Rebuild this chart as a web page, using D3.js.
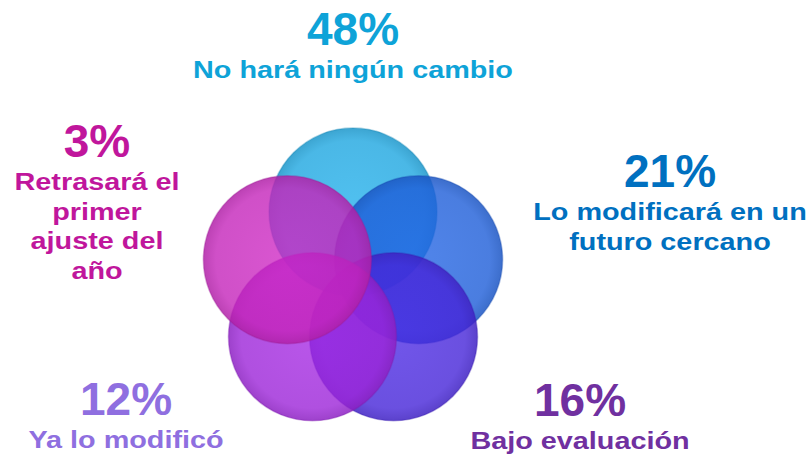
<!DOCTYPE html>
<html lang="es">
  <head>
    <meta charset="utf-8" />
    <title>Ajuste</title>
    <style>
      body { margin: 0; background: #fff; }
      text { font-family: "Liberation Sans", Arial, sans-serif; font-weight: bold; }
    </style>
  </head>
  <body>
    <div id="chart"></div>
    <script src="https://cdn.jsdelivr.net/npm/d3@7"></script>
    <script>
      // data, clockwise from the top
      const categories = [
        ["No hará ningún cambio"],
        ["Lo modificará en un", "futuro cercano"],
        ["Bajo evaluación"],
        ["Ya lo modificó"],
        ["Retrasará el", "primer", "ajuste del", "año"]
      ];
      const values = [48, 21, 16, 12, 3];
      const circleColors = ["#1da6e0", "#1d5dd8", "#4524d8", "#9c24d8", "#c424ba"];
      const textColors = ["#0ea3d8", "#0070c0", "#7030a0", "#8f6fe0", "#c0169c"];
      // where each label block sits (x centre, baseline of the percent)
      const labelPos = [[353, 45], [670, 187], [580, 416], [126, 415], [97, 157]];

      const width = 812, height = 454;
      const cx = 353, cy = 281, ring = 69, r = 84;

      const svg = d3.select("#chart").append("svg")
        .attr("width", width).attr("height", height);

      const angle = d3.scaleLinear().domain([0, values.length]).range([-Math.PI / 2, 1.5 * Math.PI]);

      const defs = svg.append("defs");
      circleColors.forEach((c, i) => {
        let g = defs.append("radialGradient").attr("id", "g" + i)
          .attr("cx", "50%").attr("cy", "50%").attr("r", "50%");
        g.append("stop").attr("offset", "0%").attr("stop-color", d3.color(c).brighter(0.15)).attr("stop-opacity", 0.78);
        g.append("stop").attr("offset", "85%").attr("stop-color", c).attr("stop-opacity", 0.8);
        g.append("stop").attr("offset", "100%").attr("stop-color", d3.color(c).darker(0.3)).attr("stop-opacity", 0.85);
      });

      svg.append("g").selectAll("circle")
        .data(values)
        .join("circle")
        .attr("cx", (d, i) => cx + ring * Math.cos(angle(i)))
        .attr("cy", (d, i) => cy + ring * Math.sin(angle(i)))
        .attr("r", r)
        .attr("fill", (d, i) => `url(#g${i})`)
        .attr("stroke", (d, i) => d3.color(circleColors[i]).darker(0.6))
        .attr("stroke-opacity", 0.35)
        .attr("stroke-width", 1.5);

      const labels = svg.append("g").selectAll("g")
        .data(values)
        .join("g")
        .attr("transform", (d, i) => `translate(${labelPos[i][0]},${labelPos[i][1]})`)
        .attr("fill", (d, i) => textColors[i])
        .attr("text-anchor", "middle");

      labels.append("text")
        .style("font-size", "46px")
        .text(d => d + "%");

      labels.each(function (d, i) {
        d3.select(this).selectAll("text.lbl")
          .data(categories[i])
          .join("text")
          .attr("class", "lbl")
          .attr("transform", (t, j) => `translate(0,${33 + j * 29.5}) scale(1.2,1)`)
          .style("font-size", "24px")
          .text(t => t);
      });
    </script>
  </body>
</html>
